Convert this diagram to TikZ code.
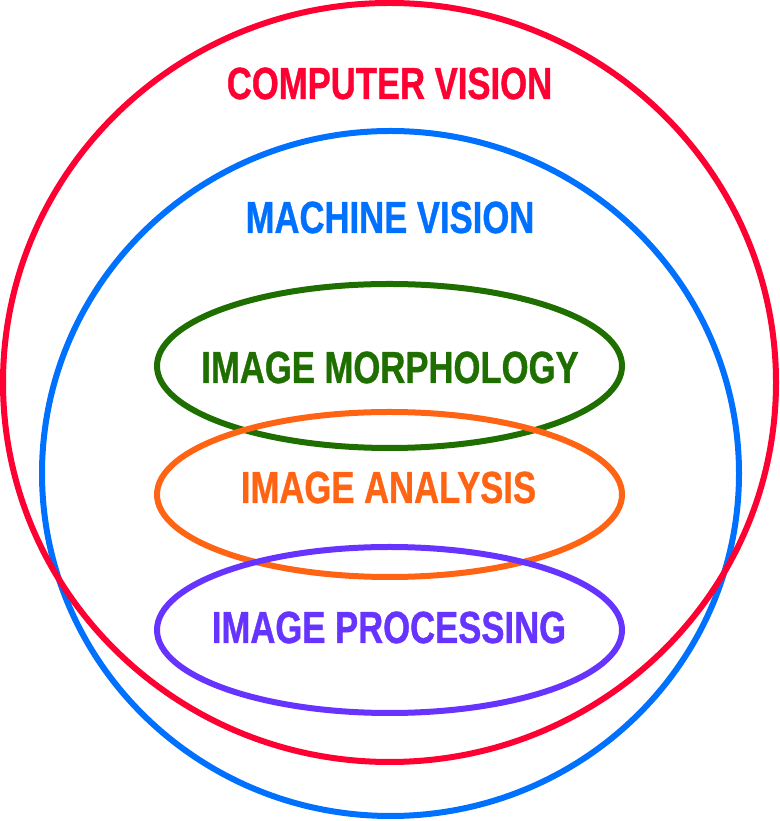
\documentclass[tikz,border=0pt]{standalone}
\usepackage{fontspec}
\usepackage{tikz}
\newfontfamily\condfont[FakeStretch=0.77, FakeBold=0.8]{Liberation Sans}

\definecolor{cvred}{RGB}{255,0,51}
\definecolor{mvblue}{RGB}{0,112,255}
\definecolor{imgreen}{RGB}{30,110,0}
\definecolor{iaorange}{RGB}{255,100,20}
\definecolor{ippurple}{RGB}{102,51,255}

\tikzset{
	ring/.style={line width=6pt},
	caption/.style={anchor=base, inner sep=0pt, font=\condfont\bfseries\fontsize{45}{45}\selectfont}
}

\begin{document}
\begin{tikzpicture}[x=1pt, y=1pt] % 1
		\useasboundingbox (0,0) rectangle (779,821);
		\begin{scope}
			\draw[ring, mvblue] (390.5,347.5) ellipse [x radius=348.5pt, y radius=342.5pt];
			\draw[ring, cvred] (389.5,438.5) ellipse [x radius=386.5pt, y radius=379.5pt];

			\draw[ring, imgreen] (389.5,455) ellipse [x radius=232.5pt, y radius=82pt];
			\draw[ring, iaorange] (389.5,326.5) ellipse [x radius=232.5pt, y radius=82.5pt];
			\draw[ring, ippurple] (389.5,191) ellipse [x radius=232.5pt, y radius=83pt];

			\node[caption, text=cvred] (cv) at (389.5,722) {COMPUTER VISION};
			\node[caption, text=mvblue] (mv) at (390,588) {MACHINE VISION};
			\node[caption, text=imgreen] (morph) at (390,438) {IMAGE MORPHOLOGY};
			\node[caption, text=iaorange] (analysis) at (388.5,318) {IMAGE ANALYSIS};
			\node[caption, text=ippurple] (processing) at (389,178) {IMAGE PROCESSING};
		\end{scope}
		\end{tikzpicture}
\end{document}
